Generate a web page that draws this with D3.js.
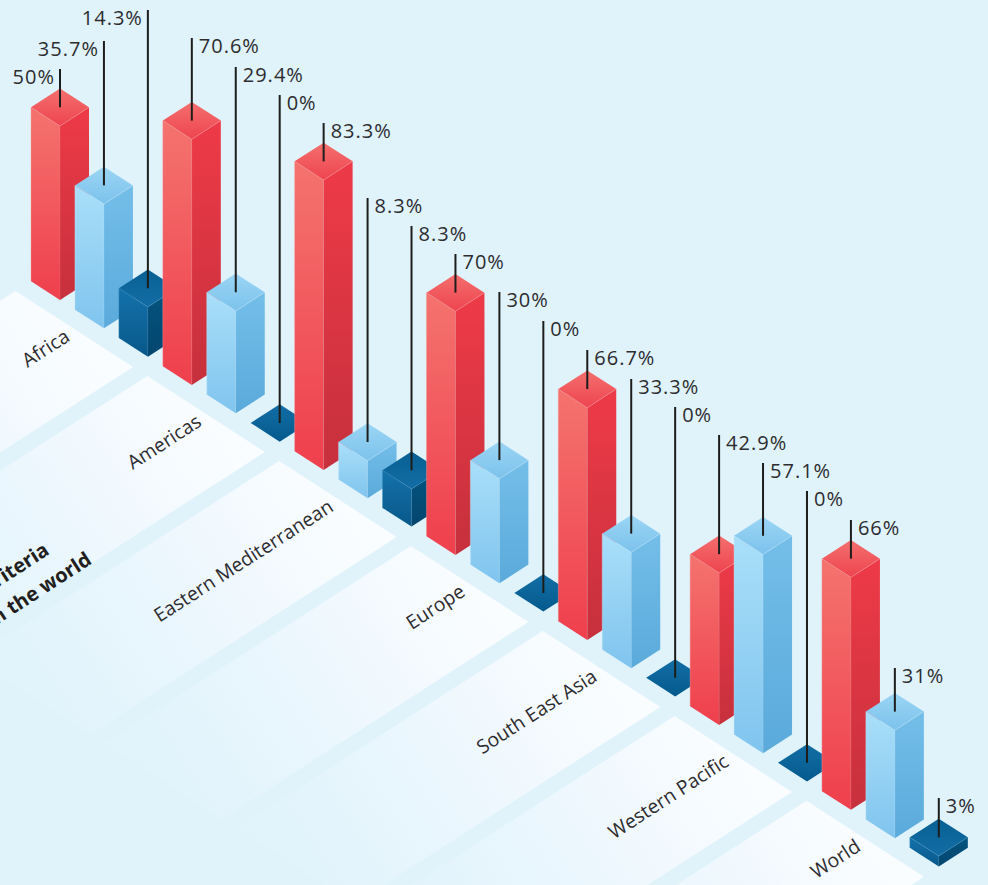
<!DOCTYPE html>
<html><head><meta charset="utf-8">
<script src="https://cdn.jsdelivr.net/npm/d3@7/dist/d3.min.js"></script>
<style>html,body{margin:0;padding:0;background:#e0f3fb;overflow:hidden}svg{display:block}</style>
</head><body><svg id="c" width="988" height="885"></svg>
<script>
const categories = ["Africa","Americas","Eastern Mediterranean","Europe","South East Asia","Western Pacific","World"];
const seriesRed = [50,70.6,83.3,70,66.7,42.9,66];
const seriesLight = [35.7,29.4,8.3,30,33.3,57.1,31];
const seriesDark = [14.3,0,8.3,0,0,0,3];
const valueLabels = ["50%","35.7%","14.3%","70.6%","29.4%","0%","83.3%","8.3%","8.3%","70%","30%","0%","66.7%","33.3%","0%","42.9%","57.1%","0%","66%","31%","3%"];
const titleLines = ["criteria","in the world"];
// layout: y where each leader line starts
const leaderTop = [69,41,10,38,67,95,123,198,226,254,292,321,350,379,407,435,463,491,520,668,798];
// layout: the reference artwork draws a few prisms slightly taller than scale (px)
const artworkExtra = {7:8.7,8:8.7,15:2.7,18:2.8};

const svg=d3.select("#c");
const defs=svg.append("defs");
const ks=["red","light","dark"];
const pal={
 red:{l:["#f4736f","#ef3f4d"],r:["#ee3a48","#c6303c"],t:["#f4706e","#ee4450"],e:"#f79a98"},
 light:{l:["#a9dff9","#80c4ee"],r:["#74bee9","#5aaadb"],t:["#9bd5f4","#7cc2ec"],e:"#c4e8fb"},
 dark:{l:["#1472ab","#08588a"],r:["#04547f","#03466f"],t:["#086093","#136da5"],e:"#3f8dbd"}
};
const bars=[];
categories.forEach((c,g)=>{
  [seriesRed[g],seriesLight[g],seriesDark[g]].forEach((v,s)=>bars.push({g,s,k:ks[s],v,i:g*3+s}));
});
const x=d3.scaleLinear().domain([0,20]).range([60,938.8]);
const yBase=d3.scaleLinear().domain([0,20]).range([300,866.5]);
const h=d3.scaleLinear().domain([0,100]).range([0,348]);
const hw=29, hd=18.7;
const gx=d3.scaleLinear().domain([0,1]).range([0,x(3)-x(0)]);
const gy=d3.scaleLinear().domain([0,1]).range([0,yBase(3)-yBase(0)]);

function grad(id,c,x1,y1,x2,y2,extra){
  const g=defs.append("linearGradient").attr("id",id).attr("gradientUnits","userSpaceOnUse")
    .attr("x1",x1).attr("y1",y1).attr("x2",x2).attr("y2",y2);
  (extra||c.map((col,i)=>[i/(c.length-1),col])).forEach(([o,col])=>g.append("stop").attr("offset",o).attr("stop-color",col));
  return `url(#${id})`;
}
// floor panels
const px=117.5, py=76;
const vx=-306, vy=197;
const floor=svg.append("g");
categories.forEach((c,g)=>{
  const tx=15.5+gx(g), ty=291+gy(g);
  const ax=tx+px, ay=ty+py;
  const pts=[[tx,ty],[ax,ay],[ax+vx,ay+vy],[tx+vx,ty+vy]];
  const fill=grad("f"+g,[],tx+px/2,ty+py/2,tx+px/2+vx,ty+py/2+vy,[[0,"#fafdff"],[0.3,"#f2f9fe"],[0.6,"#e9f6fd"],[1,"#e1f3fb"]]);
  floor.append("path").attr("d",d3.line()(pts)+"Z").attr("fill",fill);
});
// title
const tt=svg.append("g").attr("font-family","'Open Sans',sans-serif").attr("font-weight",700).attr("font-size",20).attr("fill","#231f20");
const tp=[[50.5,553.5],[93,563]];
titleLines.forEach((t,i)=>{
  tt.append("text").attr("transform",`translate(${tp[i][0]},${tp[i][1]}) rotate(-32.8)`).attr("text-anchor","end").text(t);
});
// category labels
const lab=svg.append("g").attr("font-family","'Open Sans',sans-serif").attr("font-size",19.4).attr("fill","#2d2c30");
categories.forEach((c,g)=>{
  lab.append("text").attr("transform",`translate(${71+gx(g)},${340+gy(g)}) rotate(-32.8)`).attr("text-anchor","end").text(c);
});
// bars
const barG=svg.append("g");
bars.forEach(b=>{
  const cx=x(b.i), by=yBase(b.i), bh=h(b.v)+(artworkExtra[b.i]||0), ty=by-bh;
  b.topY=ty-hd;
  const p=pal[b.k], g=barG.append("g");
  if(bh>0){
    g.append("path").attr("d",d3.line()([[cx-hw,ty-hd],[cx,ty],[cx,by],[cx-hw,by-hd]])+"Z")
     .attr("fill",grad("l"+b.i,p.l,0,ty-hd,0,by));
    g.append("path").attr("d",d3.line()([[cx,ty],[cx+hw,ty-hd],[cx+hw,by-hd],[cx,by]])+"Z")
     .attr("fill",grad("r"+b.i,p.r,0,ty-hd,0,by));
  }
  g.append("path").attr("d",d3.line()([[cx-hw,ty-hd],[cx,ty-2*hd],[cx+hw,ty-hd],[cx,ty]])+"Z")
   .attr("fill",bh>0?grad("t"+b.i,p.t,0,ty-2*hd,0,ty):grad("t"+b.i,["#136ea6","#045a8d"],0,ty-2*hd,0,ty));
  if(bh>0){
    g.append("path").attr("d",d3.line()([[cx-hw,by-hd],[cx-hw,ty-hd],[cx,ty],[cx+hw,ty-hd]]))
     .attr("fill","none").attr("stroke",p.e).attr("stroke-width",0.7).attr("stroke-opacity",0.55);
    g.append("path").attr("d",d3.line()([[cx,ty],[cx,by]]))
     .attr("fill","none").attr("stroke",p.e).attr("stroke-width",0.5).attr("stroke-opacity",0.4);
  }
});
// leaders and value labels
const lead=svg.append("g");
bars.forEach(b=>{
  const cx=x(b.i), top=leaderTop[b.i];
  lead.append("line").attr("x1",cx).attr("x2",cx).attr("y1",top).attr("y2",b.topY)
    .attr("stroke","#1d1d1b").attr("stroke-width",2);
  const left=b.i<3;
  lead.append("text").attr("x",left?cx-5:cx+7).attr("y",top+15)
    .attr("text-anchor",left?"end":"start")
    .attr("font-family","'Open Sans',sans-serif").attr("font-size",20).attr("letter-spacing",1)
    .attr("fill","#2d2c30").text(valueLabels[b.i]);
});
</script></body></html>
